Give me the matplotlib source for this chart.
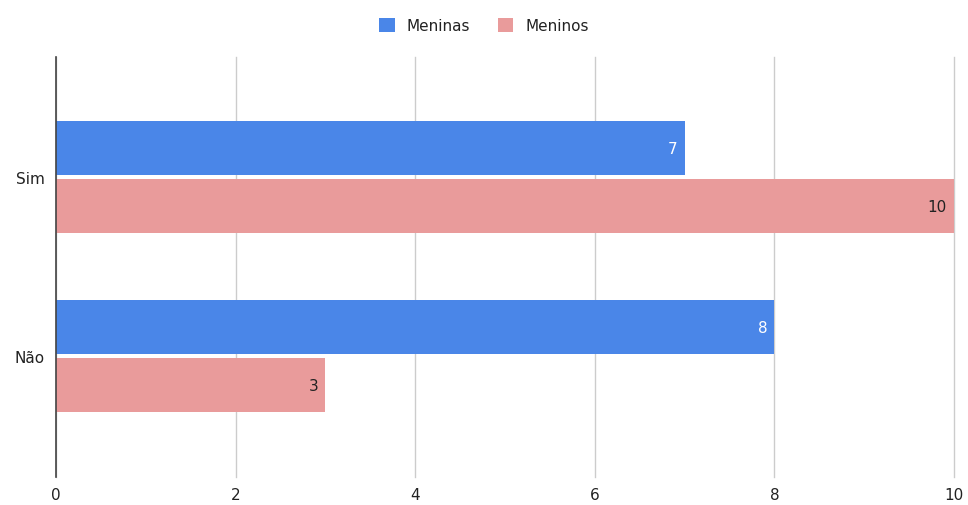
import matplotlib.pyplot as plt
import numpy as np

categories = ["Sim", "Não"]
meninas = [7, 8]
meninos = [10, 3]
xticks = [0, 2, 4, 6, 8, 10]

blue = "#4a86e8"
pink = "#e99b9b"

fig = plt.figure(figsize=(9.68, 5.06), dpi=100)
ax = fig.add_axes([0.0579, 0.0553, 0.9276, 0.8300])

y = np.arange(len(categories))
h = 0.30
off = 0.162
b1 = ax.barh(y - off, meninas, height=h, color=blue, label="Meninas", zorder=3)
b2 = ax.barh(y + off, meninos, height=h, color=pink, label="Meninos", zorder=3)

for rect, v in zip(b1, meninas):
    ax.text(v - 0.08, rect.get_y() + rect.get_height() / 2, str(v), ha="right", va="center",
            color="white", fontsize=11, zorder=4)
for rect, v in zip(b2, meninos):
    ax.text(v - 0.08, rect.get_y() + rect.get_height() / 2, str(v), ha="right", va="center",
            color="#222222", fontsize=11, zorder=4)

ax.set_xlim(0, 10)
ax.set_ylim(1.675, -0.67)
ax.set_xticks(xticks)
ax.set_yticks(y)
ax.set_yticklabels(categories)
ax.tick_params(length=0, labelsize=11, colors="#222222")
ax.tick_params(axis="x", pad=7)
ax.tick_params(axis="y", pad=8)
ax.grid(axis="x", color="#cccccc", linewidth=1, zorder=0)
for line in ax.get_xgridlines():
    line.set_clip_on(False)
for s in ["top", "right", "bottom"]:
    ax.spines[s].set_visible(False)
ax.spines["left"].set_color("#444444")
ax.spines["left"].set_linewidth(1.2)
ax.spines["left"].set_zorder(5)

fig.legend(handles=[b1, b2], loc="center", bbox_to_anchor=(0.5, 0.947), ncol=2, frameon=False,
           fontsize=11, handlelength=1.0, handleheight=1.0, columnspacing=1.8, handletextpad=0.8,
           labelcolor="#222222")

fig.savefig("out.png", dpi=100)
